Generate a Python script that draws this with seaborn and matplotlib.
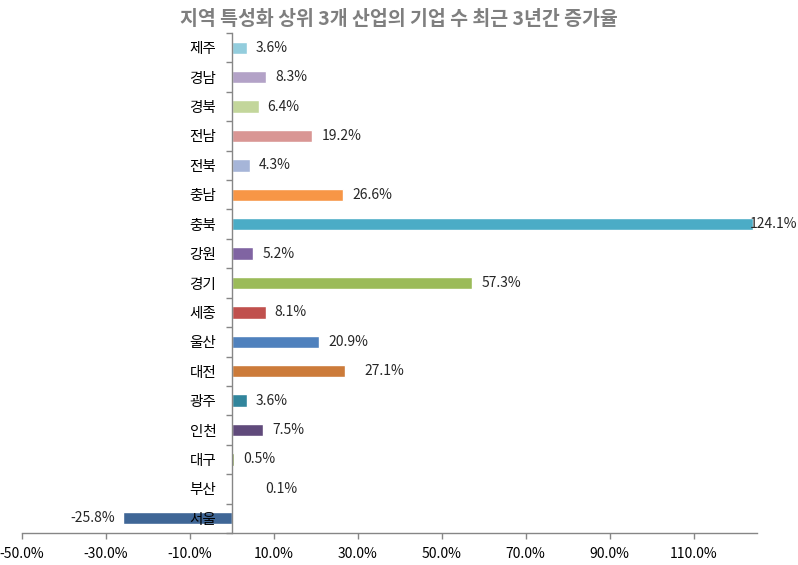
import matplotlib
matplotlib.use("Agg")
import matplotlib.pyplot as plt
import seaborn as sns
import pandas as pd
import numpy as np
from matplotlib.ticker import FixedLocator

categories = ['제주', '경남', '경북', '전남', '전북', '충남', '충북', '강원', '경기',
              '세종', '울산', '대전', '광주', '인천', '대구', '부산', '서울']
values = [3.6, 8.3, 6.4, 19.2, 4.3, 26.6, 124.1, 5.2, 57.3,
          8.1, 20.9, 27.1, 3.6, 7.5, 0.5, 0.1, -25.8]
colors = ['#93CDDD', '#B3A2C7', '#C3D69B', '#D99694', '#A6B5D8', '#F79646', '#4BACC6',
          '#8064A2', '#9BBB59', '#C0504D', '#4F81BD', '#CC7B3A', '#31859C', '#604A7B',
          '#77933C', '#953735', '#3F6696']
x_ticks = [-50, -30, -10, 10, 30, 50, 70, 90, 110]
title = '지역 특성화 상위 3개 산업의 기업 수 최근 3년간 증가율'

sns.set_theme(style='white')
plt.rcParams['font.family'] = ['Noto Sans CJK KR', 'DejaVu Sans']

df = pd.DataFrame({'region': categories, 'value': values})

fig = plt.figure(figsize=(7.98, 5.65), dpi=100)
ax = fig.add_axes([0.0272, 0.0566, 0.948 - 0.0272, 0.9416 - 0.0566])

sns.barplot(data=df, x='value', y='region', hue='region', order=categories,
            palette=colors, orient='h', width=0.42, legend=False, ax=ax,
            saturation=1.0)
ax.set_axisbelow(False)

ax.set_xlim(-50, 125)
ax.set_ylim(len(categories) - 0.5, -0.5)
ax.set_xlabel('')
ax.set_ylabel('')

spine_col = '#868686'
for s in ['top', 'right']:
    ax.spines[s].set_visible(False)
ax.spines['left'].set_position(('data', 0))
ax.spines['left'].set_color(spine_col)
ax.spines['bottom'].set_color(spine_col)
ax.spines['left'].set_linewidth(1.0)
ax.spines['bottom'].set_linewidth(1.0)

ax.set_xticks(x_ticks)
ax.set_xticklabels([f'{t:.1f}%' for t in x_ticks], fontsize=10, color='#000000')
ax.tick_params(axis='x', which='major', direction='out', length=4, width=1,
               color=spine_col, pad=6, bottom=True)

ax.set_yticks(range(len(categories)))
ax.set_yticklabels(categories, fontsize=10.5, color='#000000')
ax.tick_params(axis='y', which='major', length=0, pad=11, left=True)
ax.yaxis.set_minor_locator(FixedLocator(np.arange(-0.5, len(categories), 1.0)))
ax.tick_params(axis='y', which='minor', direction='out', length=4, width=1,
               color=spine_col, left=True)

special = {'대전': 14, '부산': 24, '충북': -2}
for i, (c, v) in enumerate(zip(categories, values)):
    txt = f'{v:.1f}%'
    if v < 0:
        ax.annotate(txt, xy=(v, i), xytext=(-6, 0), textcoords='offset points',
                    ha='right', va='center', fontsize=10, annotation_clip=False)
    else:
        off = special.get(c, 6.5)
        ax.annotate(txt, xy=(v, i), xytext=(off, 0), textcoords='offset points',
                    ha='left', va='center', fontsize=10, annotation_clip=False)

fig.text(0.5, 0.965, title, ha='center', va='center', fontsize=14,
         fontweight='bold', color='#7F7F7F')

fig.savefig('out.png', dpi=100)
